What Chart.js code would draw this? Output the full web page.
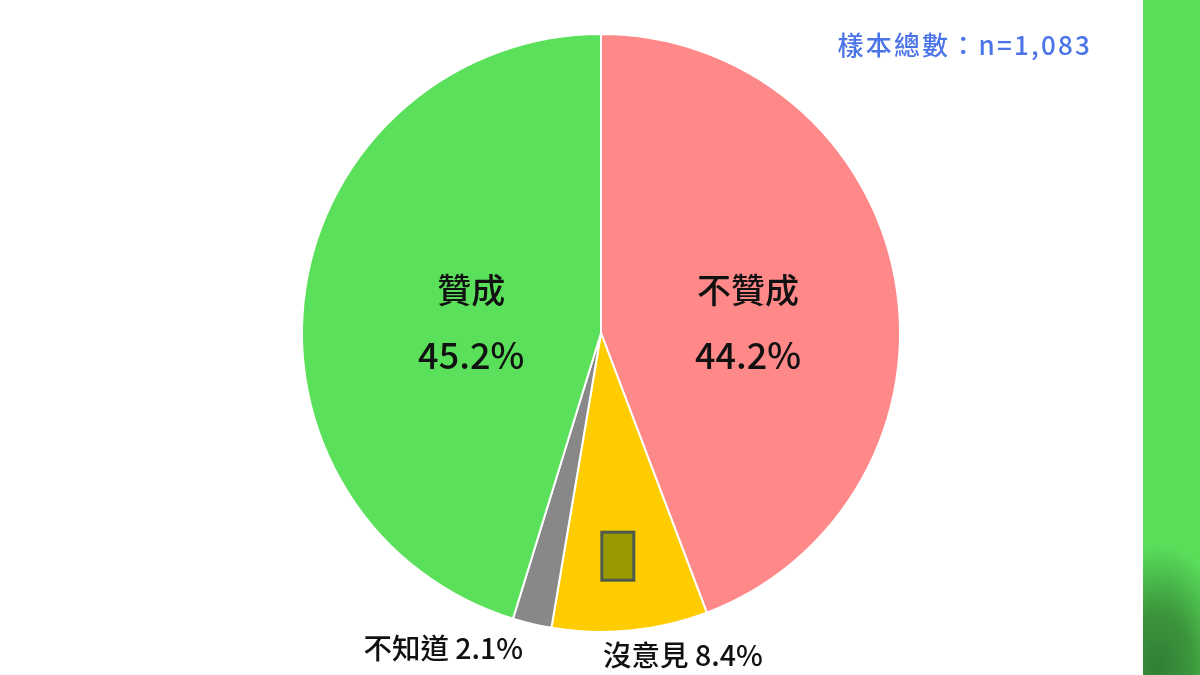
<!DOCTYPE html>
<html>
<head>
<meta charset="utf-8">
<script src="https://cdn.jsdelivr.net/npm/chart.js@4"></script>
<style>
  html, body { margin: 0; padding: 0; background: #fff; }
  #wrap { position: relative; width: 1200px; height: 675px; overflow: hidden; }
  #strip { position: absolute; left: 1143px; top: 0; width: 57px; height: 675px;
    background: radial-gradient(ellipse 75px 120px at 15px 665px, #317f35 0%, #3c963d 45%, rgba(90,223,90,0) 100%), #5ade5a; }
  #note { position: absolute; right: 108px; top: 25px; font: 500 26px "Noto Sans CJK TC", "Noto Sans", sans-serif;
    letter-spacing: 2.2px; color: #4a74e8; }
  #note span { letter-spacing: 3.2px; }
</style>
</head>
<body>
<div id="wrap">
  <canvas id="pie" width="1200" height="675"></canvas>
  <div id="strip"></div>
  <div id="note">樣本總數：n=1,083</div>
</div>
<script>
// survey result, clockwise from 12 o'clock
const labels = ['不贊成', '沒意見', '不知道', '贊成'];
const values = [44.2, 8.4, 2.1, 45.2];
const colors = ['#ff8888', '#ffcc00', '#888888', '#5ae05a'];

const FONT = '"Noto Sans CJK TC", "Noto Sans", sans-serif';

// in-slice labels for the two big slices, outside labels for the small ones
const sliceLabels = {
  id: 'sliceLabels',
  afterDatasetsDraw(chart) {
    const ctx = chart.ctx;
    const arcs = chart.getDatasetMeta(0).data;
    ctx.save();
    ctx.fillStyle = '#111';
    arcs.forEach((arc, i) => {
      const { x, y, startAngle, endAngle, outerRadius } = arc.getProps(['x', 'y', 'startAngle', 'endAngle', 'outerRadius'], true);
      const mid = (startAngle + endAngle) / 2;
      const txt = values[i].toFixed(1) + '%';
      if (values[i] > 20) {
        const r = outerRadius * 0.5;
        const lx = x + Math.cos(mid) * r + (Math.cos(mid) < 0 ? 18 : 0);
        ctx.textAlign = 'center';
        ctx.textBaseline = 'middle';
        ctx.font = '500 34px ' + FONT;
        ctx.fillText(labels[i], lx, y - 43);
        ctx.font = '500 36px ' + FONT;
        ctx.fillText(txt, lx, y + 22);
      } else {
        const ox = x + Math.cos(mid) * outerRadius;
        const oy = y + Math.sin(mid) * outerRadius;
        ctx.font = '500 28.5px ' + FONT;
        ctx.textBaseline = 'middle';
        if (labels[i] === '不知道') {
          ctx.textAlign = 'right';
          ctx.fillText(labels[i] + ' ' + txt, ox - 9, oy + 24);
        } else {
          ctx.textAlign = 'left';
          ctx.fillText(labels[i] + ' ' + txt, ox - 27, oy + 25);
          // leftover placeholder box inside the 沒意見 slice
          const bx = x + Math.cos(mid) * outerRadius * 0.75 - 5;
          const by = y + Math.sin(mid) * outerRadius * 0.75;
          ctx.fillStyle = '#999900';
          ctx.strokeStyle = '#4d5a4d';
          ctx.lineWidth = 3;
          ctx.fillRect(bx - 16, by - 24, 32, 48);
          ctx.strokeRect(bx - 16, by - 24, 32, 48);
          ctx.fillStyle = '#111';
        }
      }
    });
    ctx.restore();
  }
};

new Chart(document.getElementById('pie'), {
  type: 'pie',
  data: {
    labels: labels,
    datasets: [{ data: values, backgroundColor: colors, borderColor: '#ffffff', borderWidth: 2 }],
  },
  options: {
    responsive: false,
    animation: false,
    layout: { padding: { left: 301, right: 299, top: 33, bottom: 42 } },
    plugins: { legend: { display: false }, tooltip: { enabled: false } },
  },
  plugins: [sliceLabels],
});
</script>
</body>
</html>
